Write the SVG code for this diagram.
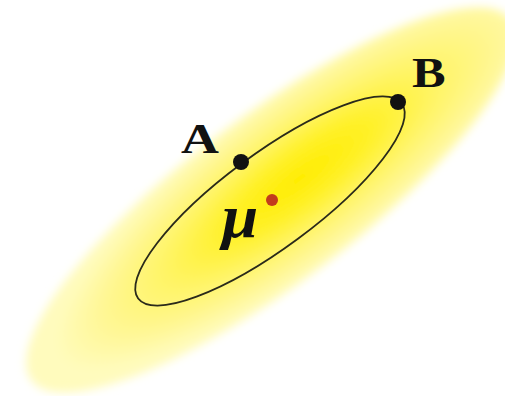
<svg xmlns="http://www.w3.org/2000/svg" width="505" height="396" viewBox="0 0 505 396">
  <style>
    .lbl { font-family: "Liberation Serif", "Times New Roman", serif; font-weight: bold; fill: #111; }
    .mu { font-family: "Liberation Serif", "Times New Roman", serif; font-weight: bold; font-style: italic; fill: #111; }
    .pt { fill: #111; }
  </style>
  <defs>
    <radialGradient id="glow" cx="0.56" cy="0.5" r="0.5" fx="0.56" fy="0.5">
      <stop offset="0" stop-color="#ffec00"/>
      <stop offset="0.3" stop-color="#fff12a"/>
      <stop offset="0.55" stop-color="#fff465"/>
      <stop offset="0.8" stop-color="#fff794"/>
      <stop offset="1" stop-color="#fffbbd"/>
    </radialGradient>
    <filter id="soft" x="-10%" y="-20%" width="120%" height="140%">
      <feGaussianBlur stdDeviation="5"/>
    </filter>
  </defs>
  <rect width="505" height="396" fill="#ffffff"/>
  <g id="cloud" transform="translate(271,200) rotate(-37)">
    <ellipse cx="0" cy="0" rx="300" ry="84" fill="url(#glow)" filter="url(#soft)"/>
  </g>
  <g id="contour" transform="translate(270,201) rotate(-36.5)">
    <ellipse cx="0" cy="0" rx="164" ry="47" fill="none" stroke="#2a2a1a" stroke-width="1.8"/>
  </g>
  <g id="pointA">
    <circle class="pt" cx="241" cy="162" r="8"/>
    <text class="lbl" font-size="42" transform="translate(181,153) scale(1.25,1)">A</text>
  </g>
  <g id="pointB">
    <circle class="pt" cx="398" cy="102" r="8"/>
    <text class="lbl" font-size="42" transform="translate(412,87) scale(1.2,1)">B</text>
  </g>
  <g id="mean">
    <circle cx="272" cy="200" r="6" fill="#c23c1c"/>
    <text class="mu" font-size="62" transform="translate(222,237) scale(1.05,1)">μ</text>
  </g>
</svg>
